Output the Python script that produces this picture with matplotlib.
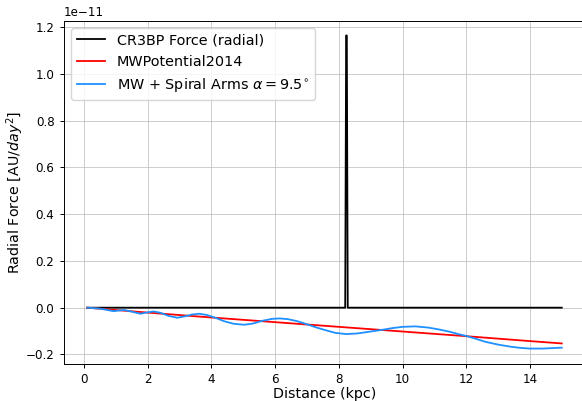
import matplotlib
matplotlib.use("Agg")
import matplotlib.pyplot as plt

# values in units of 1e-11 AU/day^2
dist_black = [0.1, 8.2, 8.23, 8.25, 8.28, 15.0]
force_black = [0.0, 0.0, 1.165, 1.165, 0.0, 0.0]

dist_red = [0.1, 2, 4, 6, 8, 10, 12, 14, 15]
force_red = [0.0, -0.021, -0.042, -0.062, -0.082, -0.102, -0.122, -0.143, -0.153]

dist_blue = [0.1, 0.3, 0.5, 0.7, 0.93, 1.1, 1.27, 1.5, 1.77, 1.95, 2.19, 2.4, 2.65,
             2.93, 3.2, 3.4, 3.61, 3.85, 4.1, 4.4, 4.7, 5.03, 5.3, 5.6, 5.9, 6.14,
             6.4, 6.7, 7.0, 7.3, 7.6, 7.9, 8.24, 8.6, 9.0, 9.35, 9.7, 10.0, 10.4,
             10.8, 11.1, 11.45, 11.75, 12.0, 12.3, 12.6, 13.0, 13.4, 13.7, 14.0,
             14.4, 14.7, 15.0]
force_blue = [0.0, -0.002, -0.004, -0.009, -0.015, -0.012, -0.010, -0.017, -0.026,
              -0.021, -0.016, -0.022, -0.035, -0.043, -0.036, -0.029, -0.026,
              -0.031, -0.042, -0.058, -0.069, -0.073, -0.068, -0.056, -0.048,
              -0.046, -0.049, -0.058, -0.071, -0.085, -0.097, -0.108, -0.113,
              -0.110, -0.102, -0.095, -0.087, -0.082, -0.080, -0.085, -0.092,
              -0.102, -0.113, -0.121, -0.133, -0.146, -0.158, -0.167, -0.172,
              -0.175, -0.175, -0.173, -0.171]

fig = plt.figure(figsize=(5.82, 4.01), dpi=100)
fig.set_facecolor("white")
ax = fig.add_axes([63.5 / 582, 37 / 401, 522 / 582, 343.5 / 401])

ax.plot(dist_black, [v * 1e-11 for v in force_black], color="black", lw=1.3,
        label="CR3BP Force (radial)")
ax.plot(dist_red, [v * 1e-11 for v in force_red], color="red", lw=1.3,
        label="MWPotential2014")
ax.plot(dist_blue, [v * 1e-11 for v in force_blue], color="dodgerblue", lw=1.3,
        label=r"MW + Spiral Arms $\alpha = 9.5^{\circ}$")

ax.set_xlim(-0.645, 15.745)
ax.set_ylim(-0.241e-11, 1.229e-11)
ax.set_xticks([0, 2, 4, 6, 8, 10, 12, 14])
ax.tick_params(labelsize=8.6, width=0.7, length=3)
ax.yaxis.get_offset_text().set_fontsize(8.6)
for s in ax.spines.values():
    s.set_linewidth(0.7)
ax.grid(True, color="#c0c0c0", lw=0.7, alpha=0.8)
ax.set_xlabel("Distance (kpc)", fontsize=10.3, labelpad=0.5)
ax.set_ylabel(r"Radial Force [AU/$day^2$]", fontsize=10.3, labelpad=0)
ax.legend(loc="upper left", fontsize=10.4)

fig.savefig("out.png", dpi=100, facecolor="white")
